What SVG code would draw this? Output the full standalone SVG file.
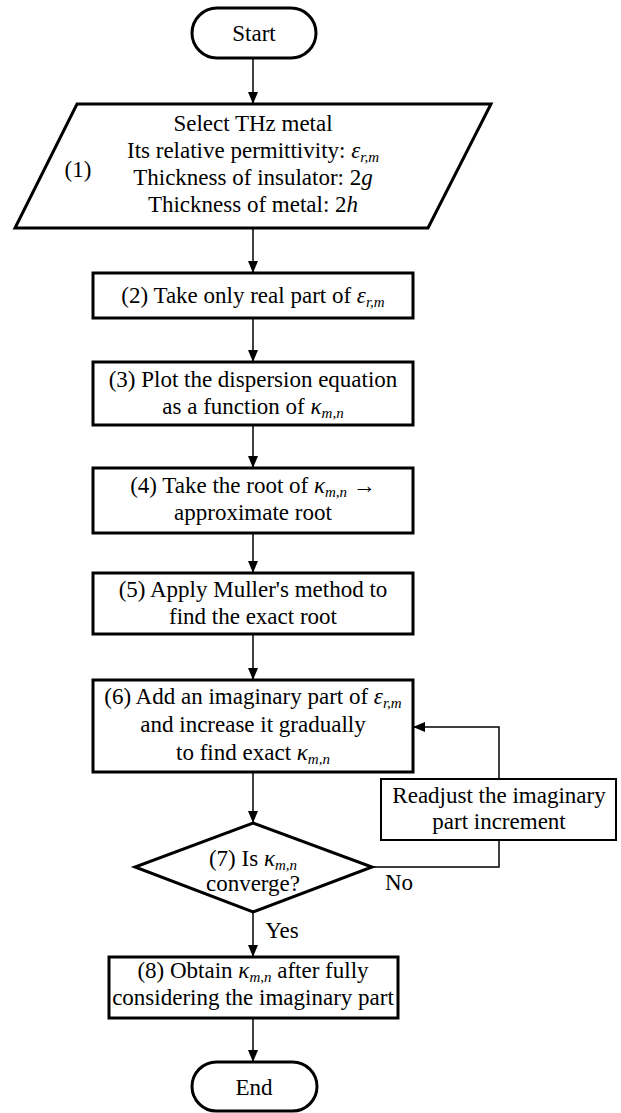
<svg xmlns="http://www.w3.org/2000/svg" width="621" height="1113" viewBox="0 0 621 1113">
<defs>
<style>
text{font-family:"Liberation Serif","Times New Roman",serif;font-size:23px;fill:#000;text-anchor:middle}
.it{font-style:italic}
.sub{font-style:italic;font-size:15px}
.box{fill:#fff;stroke:#000;stroke-width:3}
.thin{fill:#fff;stroke:#000;stroke-width:2}
.ln{fill:none;stroke:#000;stroke-width:1.5}
</style>
<marker id="ah" viewBox="0 0 12 10" refX="12" refY="5" markerWidth="12" markerHeight="10" markerUnits="userSpaceOnUse" orient="auto">
<path d="M0,0 L12,5 L0,10 Z" fill="#000"/>
</marker>
</defs>
<rect width="621" height="1113" fill="#fff"/>
<g id="connectors">
<line class="ln" x1="253" y1="58" x2="253" y2="104" marker-end="url(#ah)"/>
<line class="ln" x1="253" y1="228" x2="253" y2="273" marker-end="url(#ah)"/>
<line class="ln" x1="253" y1="318" x2="253" y2="362" marker-end="url(#ah)"/>
<line class="ln" x1="253" y1="425" x2="253" y2="468" marker-end="url(#ah)"/>
<line class="ln" x1="253" y1="533" x2="253" y2="573" marker-end="url(#ah)"/>
<line class="ln" x1="253" y1="634" x2="253" y2="680" marker-end="url(#ah)"/>
<line class="ln" x1="253" y1="772" x2="253" y2="823" marker-end="url(#ah)"/>
<line class="ln" x1="253" y1="912" x2="253" y2="957" marker-end="url(#ah)"/>
<line class="ln" x1="253" y1="1018" x2="253" y2="1062" marker-end="url(#ah)"/>
<polyline class="ln" points="372,867 499,867 499,840"/>
<polyline class="ln" points="499,779 499,727 413,727" marker-end="url(#ah)"/>
<text x="399" y="890">No</text>
<text x="282" y="938">Yes</text>
</g>
<g id="start">
<rect class="box" x="192" y="8" width="124" height="50" rx="25" stroke-width="2.5"/>
<text x="254" y="41">Start</text>
</g>
<g id="step1">
<polygon class="box" points="77,104 491,104 428,228 15,228"/>
<text x="78" y="177">(1)</text>
<text x="253" y="131">Select THz metal</text>
<text x="253" y="158">Its relative permittivity: <tspan class="it">ε</tspan><tspan class="sub" dy="4">r,m</tspan></text>
<text x="253" y="185">Thickness of insulator: 2<tspan class="it">g</tspan></text>
<text x="253" y="212">Thickness of metal: 2<tspan class="it">h</tspan></text>
</g>
<g id="step2">
<rect class="box" x="93" y="273" width="320" height="45"/>
<text x="253" y="303">(2) Take only real part of <tspan class="it">ε</tspan><tspan class="sub" dy="4">r,m</tspan></text>
</g>
<g id="step3">
<rect class="box" x="93" y="362" width="320" height="63"/>
<text x="253" y="387">(3) Plot the dispersion equation</text>
<text x="253" y="414">as a function of <tspan class="it">κ</tspan><tspan class="sub" dy="4">m,n</tspan></text>
</g>
<g id="step4">
<rect class="box" x="93" y="468" width="320" height="65"/>
<text x="253" y="493">(4) Take the root of <tspan class="it">κ</tspan><tspan class="sub" dy="4">m,n</tspan><tspan dy="-4"> →</tspan></text>
<text x="253" y="520">approximate root</text>
</g>
<g id="step5">
<rect class="box" x="93" y="573" width="320" height="61"/>
<text x="253" y="597">(5) Apply Muller's method to</text>
<text x="253" y="624">find the exact root</text>
</g>
<g id="step6">
<rect class="box" x="93" y="680" width="320" height="92"/>
<text x="253" y="704">(6) Add an imaginary part of <tspan class="it">ε</tspan><tspan class="sub" dy="4">r,m</tspan></text>
<text x="253" y="732">and increase it gradually</text>
<text x="253" y="760">to find exact <tspan class="it">κ</tspan><tspan class="sub" dy="4">m,n</tspan></text>
</g>
<g id="readjust">
<rect class="thin" x="381" y="779" width="235" height="61"/>
<text x="499" y="803">Readjust the imaginary</text>
<text x="499" y="829">part increment</text>
</g>
<g id="step7">
<polygon class="box" points="253,823 372,867 253,912 135,867"/>
<text x="253" y="866">(7) Is <tspan class="it">κ</tspan><tspan class="sub" dy="4">m,n</tspan></text>
<text x="253" y="891">converge?</text>
</g>
<g id="step8">
<rect class="box" x="109" y="957" width="289" height="61"/>
<text x="253" y="978">(8) Obtain <tspan class="it">κ</tspan><tspan class="sub" dy="4">m,n</tspan><tspan dy="-4"> after fully</tspan></text>
<text x="253" y="1005">considering the imaginary part</text>
</g>
<g id="end">
<rect class="box" x="192" y="1062" width="125" height="49" rx="24.5" stroke-width="2.5"/>
<text x="254" y="1095">End</text>
</g>
</svg>
